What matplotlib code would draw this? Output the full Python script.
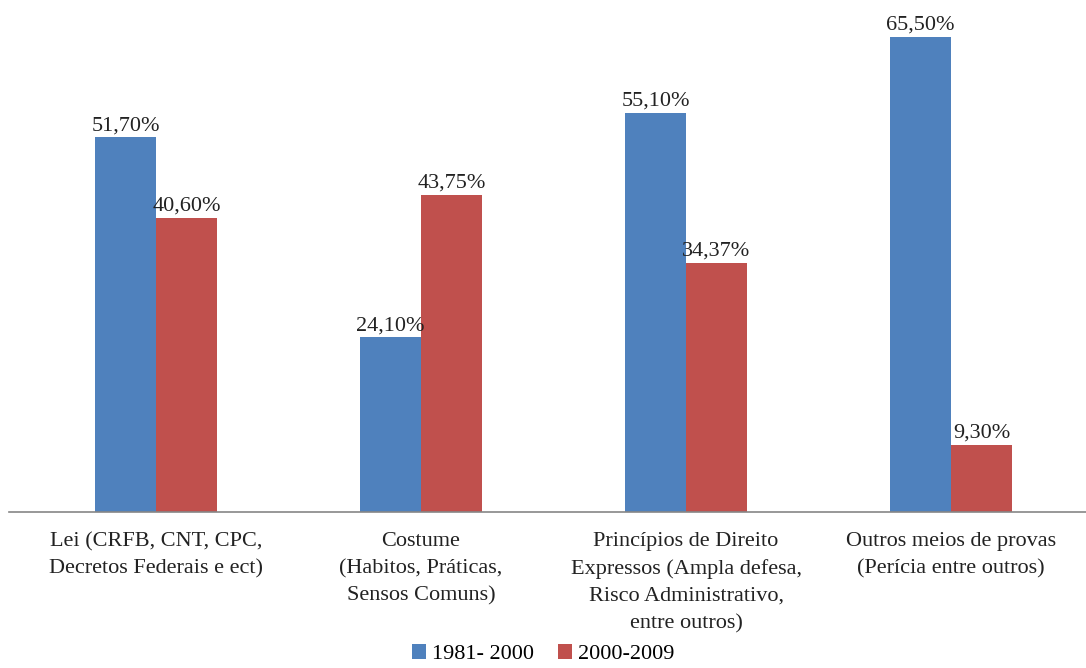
import numpy as np
import matplotlib.pyplot as plt

categorias = [
    "Lei (CRFB, CNT, CPC,\nDecretos Federais e ect)",
    "Costume\n(Habitos, Práticas,\nSensos Comuns)",
    "Princípios de Direito\nExpressos (Ampla defesa,\nRisco Administrativo,\nentre outros)",
    "Outros meios de provas\n(Perícia entre outros)",
]
periodos = ["1981- 2000", "2000-2009"]
valores_1981_2000 = [51.70, 24.10, 55.10, 65.50]
valores_2000_2009 = [40.60, 43.75, 34.37, 9.30]

AZUL = "#4F81BD"
VERMELHO = "#C0504D"

plt.rcParams["font.family"] = ["Liberation Serif", "DejaVu Serif"]

W, H = 1086, 668
fig = plt.figure(figsize=(W / 100, H / 100), dpi=100)
# eixo posicionado em pixels: base em y=512, topo em y=20
ax = fig.add_axes([9 / W, (H - 512) / H, (1086 - 9) / W, (512 - 20) / H])

x = np.arange(len(categorias))
larg = 0.23
b1 = ax.bar(x - larg / 2, valores_1981_2000, larg, color=AZUL, label=periodos[0])
b2 = ax.bar(x + larg / 2, valores_2000_2009, larg, color=VERMELHO, label=periodos[1])

for barras in (b1, b2):
    for b in barras:
        v = b.get_height()
        ax.annotate(f"{v:.2f}%".replace(".", ","),
                    (b.get_x() + b.get_width() / 2, v),
                    xytext=(0, 1.5), textcoords="offset points",
                    ha="center", va="bottom", fontsize=16, color="#222222")

ax.set_xlim(-0.5547, 3.509)
ax.set_ylim(0, 492 / 7.25)
ax.set_xticks(x)
ax.set_xticklabels(categorias, fontsize=16, color="#222222", linespacing=1.55)
ax.tick_params(axis="x", length=0, pad=14.5)
ax.set_yticks([])
for s in ("top", "right", "left"):
    ax.spines[s].set_visible(False)
ax.spines["bottom"].set_color("#868686")
ax.spines["bottom"].set_linewidth(1.2)

fig.legend(loc="lower center", bbox_to_anchor=(0.5, -0.024), ncol=2, frameon=False,
           fontsize=16, handlelength=0.65, handleheight=0.65, handletextpad=0.25,
           columnspacing=1.1)

fig.savefig("out.png", dpi=100)
